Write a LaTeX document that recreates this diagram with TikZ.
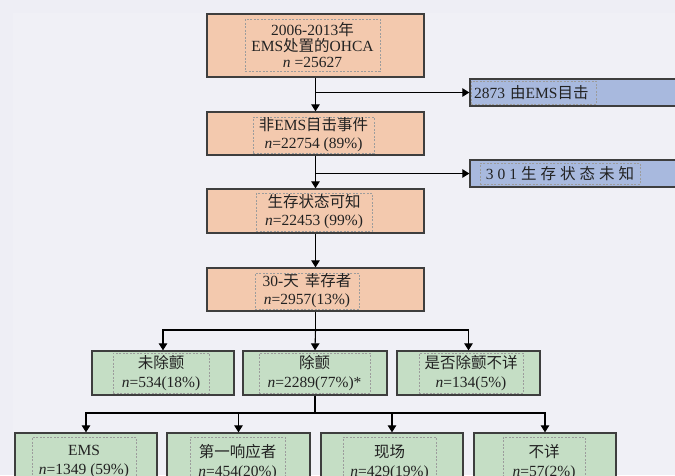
\documentclass[tikz,border=0pt]{standalone}
\usepackage{fontspec}
\setmainfont{Liberation Serif}
\newfontfamily\cjk{Noto Sans CJK SC}
\usetikzlibrary{arrows.meta}
\definecolor{bg}{HTML}{EEEEF5}
\definecolor{bginner}{HTML}{F0F0F6}
\definecolor{edge}{HTML}{3E3E3E}
\definecolor{ofill}{HTML}{F3C9AE}
\definecolor{gfill}{HTML}{C5DEC5}
\definecolor{bfill}{HTML}{A8B9DE}
\definecolor{dashc}{HTML}{9C9C9C}
\definecolor{txt}{HTML}{222222}
\begin{document}
\begin{tikzpicture}[x=1pt,y=-1pt,
  basebox/.style={draw=edge, line width=1.3pt, inner sep=0pt},
  obox/.style={basebox, fill=ofill, minimum width=217pt},
  gbox/.style={basebox, fill=gfill, minimum width=143pt},
  bbox/.style={basebox, fill=bfill, minimum width=210pt, minimum height=27pt},
  frame/.style={draw=dashc, line width=0.6pt, dash pattern=on 2pt off 1.5pt, inner sep=0pt,
    align=center, text=txt, font=\fontsize{15.5}{18}\selectfont},
  arr/.style={draw=black, line width=1.1pt, -{Triangle[width=8.5pt,length=7pt]}},
  conn/.style={draw=black, line width=1.1pt}]
\useasboundingbox (0,0) rectangle (675,475);
\clip (0,0) rectangle (675,475);
\fill[bg] (0,0) rectangle (675,475);
\fill[bginner] (13,13) rectangle (675,475);

% orange main column
\node[obox, minimum height=63pt] (o1) at (315.5,45.5) {};
\node[frame, minimum width=135pt, minimum height=52pt, font=\fontsize{15.5}{16}\selectfont] (t1) at (312.5,45)
  {2006-2013{\cjk 年}\\EMS{\cjk 处置的}OHCA\\\textit{n} =25627};

\node[obox, minimum height=43pt] (o2) at (315.5,133.5) {};
\node[frame, minimum width=121pt, minimum height=36pt] (t2) at (313.5,135)
  {{\cjk 非}EMS{\cjk 目击事件}\\\textit{n}=22754 (89\%)};

\node[obox, minimum height=44pt] (o3) at (315.5,211) {};
\node[frame, minimum width=116pt, minimum height=38pt] (t3) at (314,212)
  {{\cjk 生存状态可知}\\\textit{n}=22453 (99\%)};

\node[obox, minimum height=43pt] (o4) at (315.5,289.5) {};
\node[frame, minimum width=104pt, minimum height=36pt] (t4) at (307,291)
  {30-{\cjk 天}\hspace{6pt}{\cjk 幸存者}\\\textit{n}=2957(13\%)};

% blue side boxes
\node[bbox] (b1) at (575,92.5) {};
\node[frame, minimum width=125pt, minimum height=23pt, text width=119pt, align=left, inner sep=3pt] (tb1) at (533.5,92.5)
  {2873 {\cjk 由}EMS{\cjk 目击}};
\node[bbox] (b2) at (575,173.5) {};
\node[frame, minimum width=160pt, minimum height=21pt] (tb2) at (560,173.5)
  {3\hspace{4pt}0\hspace{4pt}1\hspace{4pt}{\cjk 生\hspace{4pt}存\hspace{4pt}状\hspace{4pt}态\hspace{4pt}未\hspace{4pt}知}};

% green row 1
\node[gbox, minimum height=44pt, minimum width=142pt] (g1) at (163,373) {};
\node[frame, minimum width=96pt, minimum height=40pt, font=\fontsize{15.5}{19.5}\selectfont] (tg1) at (161,373)
  {{\cjk 未除颤}\\\textit{n}=534(18\%)};
\node[gbox, minimum height=44pt, minimum width=144pt] (g2) at (315,373) {};
\node[frame, minimum width=111pt, minimum height=40pt, font=\fontsize{15.5}{19.5}\selectfont] (tg2) at (314.5,373)
  {{\cjk 除颤}\\\textit{n}=2289(77\%)*};
\node[gbox, minimum height=44pt, minimum width=143pt] (g3) at (468.5,373) {};
\node[frame, minimum width=104pt, minimum height=40pt, font=\fontsize{15.5}{19.5}\selectfont] (tg3) at (471,373)
  {{\cjk 是否除颤不详}\\\textit{n}=134(5\%)};

% green row 2 (cut off at bottom)
\node[gbox, minimum height=60pt, minimum width=142pt] (h1) at (86,463) {};
\node[frame, minimum width=104pt, minimum height=50pt, font=\fontsize{15.5}{19}\selectfont] (th1) at (84,462)
  {EMS\\\textit{n}=1349 (59\%)};
\node[gbox, minimum height=60pt, minimum width=143pt] (h2) at (238.5,463) {};
\node[frame, minimum width=95pt, minimum height=50pt, font=\fontsize{15.5}{19}\selectfont] (th2) at (237.5,462)
  {{\cjk 第一响应者}\\\textit{n}=454(20\%)};
\node[gbox, minimum height=60pt, minimum width=142pt] (h3) at (392,463) {};
\node[frame, minimum width=93pt, minimum height=50pt, font=\fontsize{15.5}{19}\selectfont] (th3) at (389.5,462)
  {{\cjk 现场}\\\textit{n}=429(19\%)};
\node[gbox, minimum height=60pt, minimum width=142pt] (h4) at (545,463) {};
\node[frame, minimum width=82pt, minimum height=50pt, font=\fontsize{15.5}{19}\selectfont] (th4) at (544,462)
  {{\cjk 不详}\\\textit{n}=57(2\%)};

% connectors
\draw[arr] (o1.south) -- (o2.north);
\draw[arr] (o1.south |- b1.west) -- (b1.west);
\draw[arr] (o2.south) -- (o3.north);
\draw[arr] (o2.south |- b2.west) -- (b2.west);
\draw[arr] (o3.south) -- (o4.north);

\coordinate (j1) at (315.5,330);
\draw[conn] (o4.south) -- (j1);
\draw[arr] (j1) -| (g1.north);
\draw[arr] (j1) -- (g2.north);
\draw[arr] (j1) -| (g3.north);

\coordinate (j2) at (315,413);
\draw[conn] (g2.south) -- (j2);
\draw[arr] (j2) -| (h1.north);
\draw[arr] (j2) -| (h2.north);
\draw[arr] (j2) -| (h3.north);
\draw[arr] (j2) -| (h4.north);
\end{tikzpicture}
\end{document}
